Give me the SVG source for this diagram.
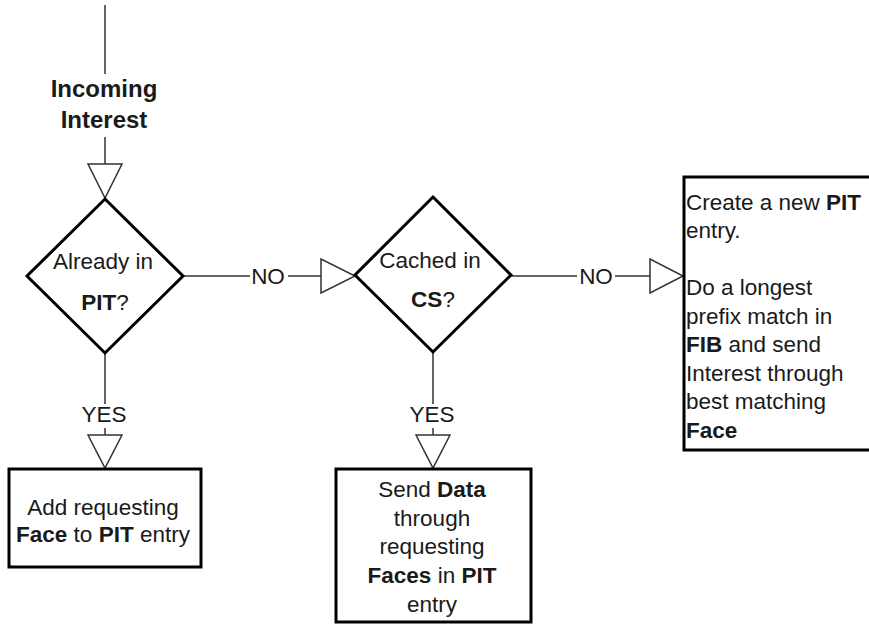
<svg xmlns="http://www.w3.org/2000/svg" width="869" height="624" viewBox="0 0 869 624">
  <style>
    .bg { fill: #ffffff; }
    .edge { fill: none; stroke: #333333; stroke-width: 1.5; }
    .head { fill: #ffffff; stroke: #333333; stroke-width: 1.5; stroke-linejoin: miter; }
    .shape { fill: #ffffff; stroke: #000000; stroke-width: 3; }
    .lbl { fill: #ffffff; stroke: none; }
    text { font-family: "Liberation Sans", Arial, Helvetica, sans-serif; font-size: 22.5px; fill: #1a1a1a; }
    .mid { text-anchor: middle; }
    .b { font-weight: bold; }
    .title { font-size: 24px; font-weight: bold; }
  </style>
  <rect class="bg" x="0" y="0" width="869" height="624"/>

  <!-- connectors -->
  <g id="connectors">
    <!-- incoming edge into first decision -->
    <line class="edge" x1="105" y1="5" x2="105" y2="164"/>
    <rect class="lbl" x="44" y="74" width="120" height="63"/>
    <text class="title mid" x="104" y="97">Incoming</text>
    <text class="title mid" x="104" y="128">Interest</text>
    <polygon class="head" points="88,164 122,164 105,198"/>

    <!-- PIT? -> YES -> add face -->
    <line class="edge" x1="105" y1="353" x2="105" y2="435"/>
    <rect class="lbl" x="80" y="404" width="46" height="24"/>
    <text class="mid" x="104" y="422">YES</text>
    <polygon class="head" points="88,435 122,435 105,468"/>

    <!-- PIT? -> NO -> CS? -->
    <line class="edge" x1="183" y1="276" x2="321" y2="276"/>
    <rect class="lbl" x="250" y="264" width="38" height="24"/>
    <text class="mid" x="268" y="284">NO</text>
    <polygon class="head" points="321,259 321,293 355,276"/>

    <!-- CS? -> YES -> send data -->
    <line class="edge" x1="433" y1="352" x2="433" y2="435"/>
    <rect class="lbl" x="409" y="404" width="46" height="24"/>
    <text class="mid" x="432" y="422">YES</text>
    <polygon class="head" points="416,435 450,435 433,468"/>

    <!-- CS? -> NO -> new PIT entry -->
    <line class="edge" x1="511" y1="276" x2="650" y2="276"/>
    <rect class="lbl" x="577" y="264" width="38" height="24"/>
    <text class="mid" x="596" y="284">NO</text>
    <polygon class="head" points="650,259 650,293 683,276"/>
  </g>

  <!-- decision: already in PIT -->
  <g id="already-in-pit">
    <polygon class="shape" points="105,199 183,276 105,353 27,276"/>
    <text class="mid" x="103" y="269">Already in</text>
    <text class="mid" x="105" y="310"><tspan class="b">PIT</tspan>?</text>
  </g>

  <!-- decision: cached in CS -->
  <g id="cached-in-cs">
    <polygon class="shape" points="433,197 511,275 433,352 355,275"/>
    <text class="mid" x="430" y="268">Cached in</text>
    <text class="mid" x="433" y="307"><tspan class="b">CS</tspan>?</text>
  </g>

  <!-- action: add requesting face -->
  <g id="add-face">
    <rect class="shape" x="9" y="469" width="192" height="98"/>
    <text class="mid" x="103" y="515">Add requesting</text>
    <text class="mid" x="103" y="542"><tspan class="b">Face</tspan> to <tspan class="b">PIT</tspan> entry</text>
  </g>

  <!-- action: send data -->
  <g id="send-data">
    <rect class="shape" x="336" y="469" width="195" height="153"/>
    <text class="mid" x="432" y="497">Send <tspan class="b">Data</tspan></text>
    <text class="mid" x="432" y="526">through</text>
    <text class="mid" x="432" y="554">requesting</text>
    <text class="mid" x="432" y="583"><tspan class="b">Faces</tspan> in <tspan class="b">PIT</tspan></text>
    <text class="mid" x="432" y="612">entry</text>
  </g>

  <!-- action: new PIT entry and FIB lookup -->
  <g id="new-pit-entry">
    <rect class="shape" x="684" y="177" width="200" height="273"/>
    <text x="686" y="210">Create a new <tspan class="b">PIT</tspan></text>
    <text x="686" y="238">entry.</text>
    <text x="686" y="295">Do a longest</text>
    <text x="686" y="324">prefix match in</text>
    <text x="686" y="352"><tspan class="b">FIB</tspan> and send</text>
    <text x="686" y="381">Interest through</text>
    <text x="686" y="409">best matching</text>
    <text x="686" y="438" class="b">Face</text>
  </g>
</svg>
